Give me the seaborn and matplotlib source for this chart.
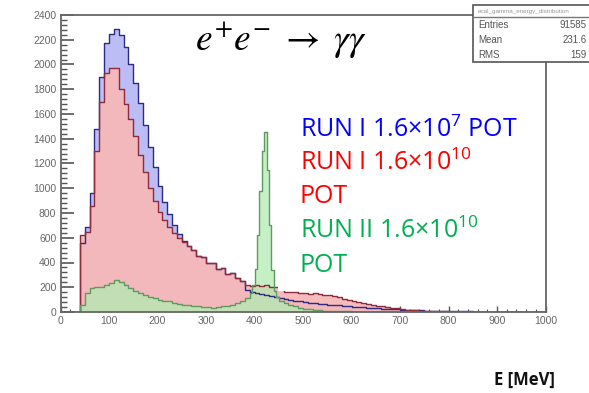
import pandas as pd
import matplotlib
matplotlib.use("Agg")
import matplotlib.pyplot as plt
import seaborn as sns
from matplotlib.patches import Rectangle
from matplotlib.ticker import MultipleLocator

# Histogram bins: 10 MeV wide, 0 to 1000 MeV
bin_edges = list(range(0, 1001, 10))
bin_centers = [e + 5 for e in bin_edges[:-1]]

# RUN I 1.6x10^7 POT (blue)
run1_low = [
    0, 0, 0, 0, 560, 690, 960, 1480, 1900, 2170,
    2250, 2285, 2240, 2140, 2000, 1850, 1690, 1510, 1330, 1170,
    1020, 890, 790, 700, 630, 570, 530, 500, 455, 445,
    400, 395, 350, 355, 310, 315, 275, 250, 180, 165,
    155, 145, 135, 126, 118, 110, 103, 96, 90, 85,
    80, 76, 72, 68, 64, 60, 57, 54, 50, 47,
    44, 41, 38, 35, 33, 30, 28, 26, 24, 22,
    20, 18, 16, 14, 13, 12, 11, 10, 9, 8,
    7, 6, 6, 5, 5, 4, 4, 3, 3, 3,
    2, 2, 2, 2, 1, 1, 1, 1, 1, 0,
]

# RUN I 1.6x10^10 POT (red)
run1_high = [
    0, 0, 0, 0, 620, 650, 860, 1300, 1700, 1930,
    1975, 1975, 1800, 1680, 1560, 1420, 1270, 1130, 1000, 900,
    810, 740, 690, 640, 600, 565, 530, 500, 455, 445,
    400, 395, 350, 355, 310, 315, 275, 250, 215, 210,
    220, 212, 218, 205, 200, 185, 165, 158, 160, 152,
    155, 148, 150, 144, 140, 135, 128, 118, 108, 98,
    88, 80, 72, 64, 57, 52, 46, 41, 36, 32,
    22, 18, 15, 13, 11, 10, 9, 8, 7, 6,
    3, 0, 0, 0, 0, 0, 0, 0, 0, 0,
    0, 0, 0, 0, 0, 0, 0, 0, 0, 0,
]

# RUN II 1.6x10^10 POT (green): 10 MeV bins, 5 MeV bins across the 390-450 peak
run2_edges = list(range(0, 390, 10)) + list(range(390, 450, 5)) + list(range(450, 1001, 10))
run2_centers = [(a + b) / 2 for a, b in zip(run2_edges[:-1], run2_edges[1:])]
run2 = [
    0, 0, 0, 0, 60, 150, 190, 200, 205, 215,
    235, 255, 245, 215, 190, 170, 155, 140, 125, 110,
    100, 92, 85, 75, 68, 60, 55, 50, 45, 40,
    38, 35, 40, 45, 52, 60, 70, 85, 110,
    150, 220, 350, 620, 980, 1300, 1455, 1150, 700, 340, 170, 120,
    90, 70, 55, 45, 35,
    28, 22, 18, 15, 12, 10, 8, 7, 6, 5,
    4, 4, 3, 3, 2, 2, 2, 1, 1, 1,
    0, 0, 0, 0, 0, 0, 0, 0, 0, 0,
    0, 0, 0, 0, 0, 0, 0, 0, 0, 0,
    0, 0, 0, 0, 0, 0, 0, 0, 0, 0,
]

stats_labels = ["Entries", "Mean", "RMS"]
stats_values = ["91585", "231.6", "159"]

run1_df = pd.DataFrame({"E": bin_centers, "run1_low": run1_low, "run1_high": run1_high})
run2_df = pd.DataFrame({"E": run2_centers, "run2": run2})

sns.set_style("ticks")
plt.rcParams["font.family"] = ["Liberation Sans", "DejaVu Sans"]

W, H = 589, 393
fig = plt.figure(figsize=(W / 100, H / 100), dpi=100)
ax = fig.add_axes([60.5 / W, 81 / H, 485 / W, 297 / H])


def hist(data, col, edges, color, alpha, fill, lw=0.0):
    sns.histplot(data=data, x="E", weights=col, bins=edges, element="step",
                 fill=fill, color=color, alpha=alpha, linewidth=lw, ax=ax)


# fills and outlines, drawn the way ROOT stacks them
hist(run1_df, "run1_low", bin_edges, "#bdbdf6", 1.0, True)
hist(run1_df, "run1_high", bin_edges, "#f6b8b8", 0.95, True)
hist(run1_df, "run1_low", bin_edges, "#2c2c85", 1.0, False, lw=1.0)
hist(run1_df, "run1_high", bin_edges, "#8c2c3c", 1.0, False, lw=1.0)
hist(run2_df, "run2", run2_edges, "#b2ebb2", 0.75, True)
hist(run2_df, "run2", run2_edges, "#5f9a5f", 1.0, False, lw=1.0)

ax.set_xlim(0, 1000)
ax.set_ylim(0, 2400)
ax.set_xlabel("")
ax.set_ylabel("")
ax.xaxis.set_major_locator(MultipleLocator(100))
ax.xaxis.set_minor_locator(MultipleLocator(20))
ax.yaxis.set_major_locator(MultipleLocator(200))
ax.yaxis.set_minor_locator(MultipleLocator(40))
ax.tick_params(which="both", direction="in", colors="#555555", labelcolor="#666666",
               labelsize=7.5, top=False, right=False)
ax.tick_params(axis="y", which="major", length=9, width=1.2, pad=3)
ax.tick_params(axis="y", which="minor", length=4.5, width=1.0)
ax.tick_params(axis="x", which="major", length=4, width=1.0, pad=3)
ax.tick_params(axis="x", which="minor", length=2, width=0.8)
for side in ["left", "bottom", "top", "right"]:
    ax.spines[side].set_visible(True)
    ax.spines[side].set_color("#666666")
    ax.spines[side].set_linewidth(1.3)

# stats box (ROOT style), runs off the right edge
fig.add_artist(Rectangle((473 / W, (H - 62) / H), 0.3, 57 / H, transform=fig.transFigure,
                         facecolor="white", edgecolor="#555555", lw=1.2, zorder=10,
                         clip_on=False))
fig.add_artist(plt.Line2D([473 / W, 1.0], [(H - 17) / H] * 2, transform=fig.transFigure,
                          color="#777777", lw=1.0, zorder=11))
fig.text(478 / W, (H - 11) / H, "ecal_gamma_energy_distribution", fontsize=4.5,
         color="#999999", va="center", zorder=12)
for i, (lab, val) in enumerate(zip(stats_labels, stats_values)):
    y = (H - 25 - 15 * i) / H
    fig.text(478 / W, y, lab, fontsize=7, color="#555555", va="center", zorder=12)
    fig.text(587 / W, y, val, fontsize=7, color="#555555", va="center", ha="right", zorder=12)

# white panel behind the legend text
fig.add_artist(Rectangle((278 / W, (H - 291) / H), (541 - 278) / W, (291 - 80) / H,
                         transform=fig.transFigure, facecolor="white", edgecolor="none",
                         zorder=5))

fig.text(195 / W, (H - 50) / H, r"$e^{+}e^{-}\;\rightarrow\;\gamma\gamma$", fontsize=27,
         math_fontfamily="stix", va="baseline", ha="left", color="black", zorder=6)

legend_lines = [
    ("RUN I 1.6×10$^{\\mathregular{7}}$ POT", "#0000ff", 136.7),
    ("RUN I 1.6×10$^{\\mathregular{10}}$", "#ff0000", 170),
    ("POT", "#ff0000", 203),
    ("RUN II 1.6×10$^{\\mathregular{10}}$", "#00b050", 237.7),
    ("POT", "#00b050", 271.7),
]
for txt, col, yb in legend_lines:
    fig.text(300 / W, (H - yb) / H, txt, color=col, fontsize=18,
             family=["Open Sans", "DejaVu Sans"], va="baseline", ha="left", zorder=6)

fig.text(555 / W, (H - 385) / H, "E [MeV]", ha="right", va="baseline", fontweight="bold",
         fontsize=12, family=["Open Sans", "DejaVu Sans"], color="#111111")

fig.savefig("out.png", dpi=100, facecolor="white")
